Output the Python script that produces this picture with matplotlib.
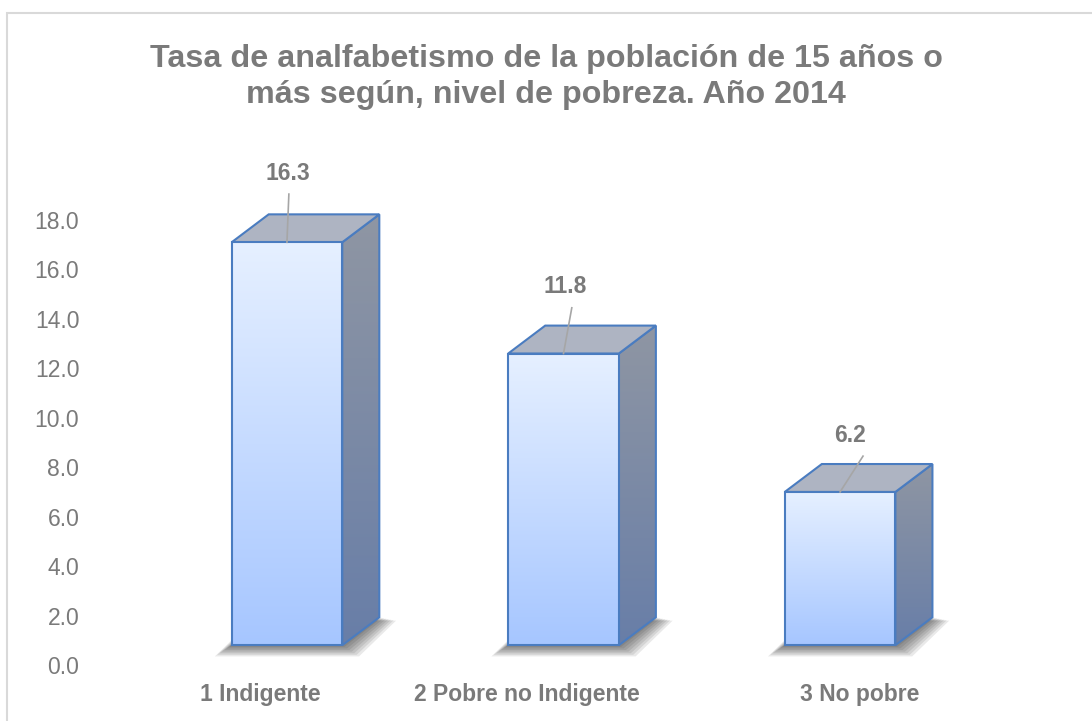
import numpy as np
import matplotlib.pyplot as plt
from matplotlib.patches import Polygon, Rectangle
from matplotlib.colors import LinearSegmentedColormap

plt.rcParams['font.family'] = ['Liberation Sans', 'DejaVu Sans']

categories = ["1 Indigente", "2 Pobre no Indigente", "3 No pobre"]
values = [16.3, 11.8, 6.2]
yticks = [0, 2, 4, 6, 8, 10, 12, 14, 16, 18]

title = "Tasa de analfabetismo de la población de 15 años o\nmás según, nivel de pobreza. Año 2014"

# 3D look: floor lift, bar width and depth offsets (data units)
base = 0.8
w = 0.4
dx, dy = 0.134, 1.13
label_dx = [0.005, 0.007, 0.036]
label_dy = [2.8, 2.7, 2.3]
line_dx = [0.007, 0.03, 0.083]
xlabel_shift = [-0.098, -0.132, 0.072]

grey = "#7a7a7a"
edge = "#4a7cc0"

front_cmap = LinearSegmentedColormap.from_list("front", ["#a6c6ff", "#e6f0ff"])
side_cmap = LinearSegmentedColormap.from_list("side", ["#687ea8", "#8f96a3"])

fig = plt.figure(figsize=(10.92, 7.21), dpi=100)
ymax = 18.8
ax = fig.add_axes([121 / 1092, 56 / 721, 885 / 1092, ymax * 24.72 / 721])
xlim = (-0.6, 2.6)

x = np.arange(len(values))
grad = np.linspace(0, 1, 256).reshape(-1, 1)

for i, v in enumerate(values):
    xl, xr = x[i] - w / 2, x[i] + w / 2
    top = base + v

    # soft floor shadow
    for k in range(7, 0, -1):
        ex = k * 2.4 / 276.5
        ey = k * 1.6 / 24.72
        sh = Polygon([(xl - ex, base - ey), (xr + ex, base - ey),
                      (xr + dx + ex, base + dy - ey * 0.3), (xl + dx - ex, base + dy - ey * 0.3)],
                     closed=True, facecolor="black", edgecolor="none", alpha=0.085, zorder=1)
        ax.add_patch(sh)

    # right side face
    side = Polygon([(xr, base), (xr + dx, base + dy), (xr + dx, top + dy), (xr, top)],
                   closed=True, facecolor="none", edgecolor=edge, lw=1.5, zorder=3)
    ax.add_patch(side)
    im = ax.imshow(grad, cmap=side_cmap, origin="lower", aspect="auto",
                   extent=(xr, xr + dx, base, top + dy), zorder=2)
    im.set_clip_path(side)

    # top face
    ax.add_patch(Polygon([(xl, top), (xr, top), (xr + dx, top + dy), (xl + dx, top + dy)],
                         closed=True, facecolor="#aeb4c2", edgecolor=edge, lw=1.5, zorder=3))

# front faces
bars = ax.bar(x, values, width=w, bottom=base, facecolor="none", edgecolor=edge,
              linewidth=1.5, zorder=5)
for b in bars:
    im = ax.imshow(grad, cmap=front_cmap, origin="lower", aspect="auto",
                   extent=(b.get_x(), b.get_x() + b.get_width(), b.get_y(), b.get_y() + b.get_height()),
                   zorder=4)
    im.set_clip_path(b)

# value labels with leader lines
for i, v in enumerate(values):
    top = base + v
    ly = top + label_dy[i]
    ax.text(x[i] + label_dx[i], ly, f"{v:.1f}", ha="center", va="center",
            fontsize=16.5, fontweight="bold", color=grey, zorder=6)
    ax.plot([x[i], x[i] + line_dx[i]], [top, ly - 0.85], color="#a6a6a6", lw=1.2,
            zorder=6, clip_on=False)

ax.set_xlim(xlim)
ax.set_ylim(0, ymax)
ax.set_yticks(yticks)
ax.set_yticklabels([f"{t:.1f}" for t in yticks], fontsize=16.5, color=grey)
ax.set_xticks(x + np.array(xlabel_shift))
ax.set_xticklabels(categories, fontsize=16.5, fontweight="bold", color=grey)
ax.tick_params(axis="y", length=0, pad=30)
ax.tick_params(axis="x", length=0, pad=13)
for s in ax.spines.values():
    s.set_visible(False)
ax.patch.set_alpha(0)

fig.text(0.5, 1 - 77 / 721, title, ha="center", va="center", fontsize=23.2,
         fontweight="bold", color=grey, linespacing=1.25)

fig.patches.append(Rectangle((7 / 1092, -0.05), 1.1, 1 - 13 / 721 + 0.05,
                             transform=fig.transFigure, fill=False,
                             edgecolor="#d9d9d9", lw=1.5))

fig.savefig("out.png", dpi=100)
